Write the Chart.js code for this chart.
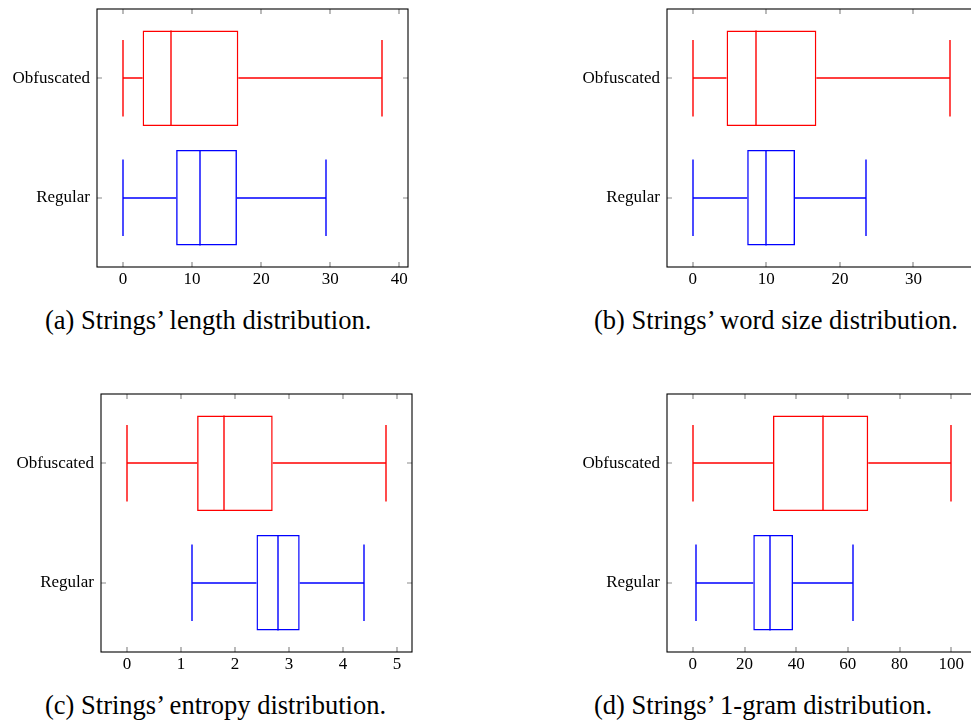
<!DOCTYPE html>
<html>
<head>
<meta charset="utf-8">
<script src="https://cdn.jsdelivr.net/npm/chart.js@4.4.1/dist/chart.umd.min.js"></script>
<style>
  html, body { margin: 0; padding: 0; background: #fff; overflow: hidden; }
  body { width: 971px; height: 722px; position: relative; }
  canvas { position: absolute; }
  .caption {
    position: absolute;
    font-family: "Liberation Serif", "Times New Roman", serif;
    font-size: 26.5px;
    line-height: 26px;
    color: #000;
    white-space: nowrap;
  }
</style>
</head>
<body>
<canvas id="cLength" width="420" height="300" style="left:0px;top:0px"></canvas>
<canvas id="cWord" width="420" height="300" style="left:570px;top:0px"></canvas>
<canvas id="cEntropy" width="420" height="300" style="left:0px;top:385px"></canvas>
<canvas id="cGram" width="420" height="300" style="left:570px;top:385px"></canvas>

<div class="caption" style="left:45px;top:307px">(a) Strings’ length distribution.</div>
<div class="caption" style="left:594px;top:307px">(b) Strings’ word size distribution.</div>
<div class="caption" style="left:45px;top:692px">(c) Strings’ entropy distribution.</div>
<div class="caption" style="left:594px;top:692px">(d) Strings’ 1-gram distribution.</div>

<script>
// categories, top to bottom
const categories = ["Obfuscated", "Regular"];

// (a) length
const lengthMin = [0, 0];
const lengthQ1 = [2.85, 7.7];
const lengthMedian = [6.9, 11.1];
const lengthQ3 = [16.7, 16.5];
const lengthMax = [37.5, 29.4];
const lengthTicks = [0, 10, 20, 30, 40];

// (b) word size
const wordMin = [0, 0];
const wordQ1 = [4.6, 7.4];
const wordMedian = [8.6, 10.0];
const wordQ3 = [16.8, 13.9];
const wordMax = [35.0, 23.5];
const wordTicks = [0, 10, 20, 30];

// (c) entropy
const entropyMin = [0, 1.2];
const entropyQ1 = [1.3, 2.4];
const entropyMedian = [1.8, 2.8];
const entropyQ3 = [2.7, 3.2];
const entropyMax = [4.8, 4.4];
const entropyTicks = [0, 1, 2, 3, 4, 5];

// (d) 1-gram
const gramMin = [0, 1.2];
const gramQ1 = [31.0, 23.4];
const gramMedian = [50.5, 30.0];
const gramQ3 = [67.9, 38.8];
const gramMax = [100, 62.0];
const gramTicks = [0, 20, 40, 60, 80, 100];

const boxColors = ["#ff0000", "#0000ff"];
const tickColor = "#8c8c8c";
const lineW = 1.4;

Chart.defaults.font.family = "'Liberation Serif', 'Times New Roman', serif";
Chart.defaults.font.size = 17;
Chart.defaults.color = "#000";

const n = categories.length;
const pos = (i) => n - i;

// whiskers, caps and median line, drawn through the chart scales
const whiskerPlugin = {
  id: "whiskers",
  afterDatasetsDraw(chart, args, opts) {
    const { ctx } = chart;
    const xs = chart.scales.x;
    const ys = chart.scales.y;
    const meta = chart.getDatasetMeta(0);
    ctx.save();
    ctx.lineWidth = lineW;
    for (let i = 0; i < n; i++) {
      const yc = Math.round(ys.getPixelForValue(pos(i)));
      const capTop = ys.getPixelForValue(pos(i) + 0.32);
      const capBot = ys.getPixelForValue(pos(i) - 0.32);
      const bar = meta.data[i];
      const half = bar.height / 2;
      const px = (v) => Math.round(xs.getPixelForValue(v));
      ctx.strokeStyle = boxColors[i];
      ctx.beginPath();
      // lower whisker
      ctx.moveTo(px(opts.min[i]), yc);
      ctx.lineTo(xs.getPixelForValue(opts.q1[i]), yc);
      // upper whisker
      ctx.moveTo(xs.getPixelForValue(opts.q3[i]), yc);
      ctx.lineTo(px(opts.max[i]), yc);
      // caps
      ctx.moveTo(px(opts.min[i]), capTop);
      ctx.lineTo(px(opts.min[i]), capBot);
      ctx.moveTo(px(opts.max[i]), capTop);
      ctx.lineTo(px(opts.max[i]), capBot);
      // median
      ctx.moveTo(px(opts.median[i]), bar.y - half);
      ctx.lineTo(px(opts.median[i]), bar.y + half);
      ctx.stroke();
    }
    ctx.restore();
  }
};

// pgfplots style frame with inward ticks on all four sides
const framePlugin = {
  id: "frame",
  afterDraw(chart) {
    const { ctx, chartArea: a } = chart;
    const xs = chart.scales.x;
    const ys = chart.scales.y;
    const len = 5;
    ctx.save();
    ctx.lineWidth = 1.2;
    ctx.strokeStyle = tickColor;
    ctx.beginPath();
    xs.ticks.forEach((t) => {
      const x = Math.round(xs.getPixelForValue(t.value));
      ctx.moveTo(x, a.bottom);
      ctx.lineTo(x, a.bottom - len);
      ctx.moveTo(x, a.top);
      ctx.lineTo(x, a.top + len);
    });
    ys.ticks.forEach((t) => {
      const y = Math.round(ys.getPixelForValue(t.value));
      ctx.moveTo(a.left, y);
      ctx.lineTo(a.left + len, y);
      ctx.moveTo(a.right, y);
      ctx.lineTo(a.right - len, y);
    });
    ctx.stroke();
    ctx.lineWidth = 1.1;
    ctx.strokeStyle = "#000";
    ctx.strokeRect(Math.round(a.left), Math.round(a.top),
      Math.round(a.right - a.left), Math.round(a.bottom - a.top));
    ctx.restore();
  }
};

const noPad = (s) => {
  s.paddingTop = 0;
  s.paddingBottom = 0;
  s.paddingLeft = 0;
  s.paddingRight = 0;
};

function makeBoxChart(id, mins, q1, median, q3, maxs, xTicks, yWidth, pad) {
  const lo = Math.min(...mins);
  const hi = Math.max(...maxs);
  const margin = 0.1 * (hi - lo);
  return new Chart(document.getElementById(id), {
    type: "bar",
    data: {
      datasets: [{
        data: categories.map((c, i) => ({ x: [q1[i], q3[i]], y: pos(i) })),
        backgroundColor: "rgba(0,0,0,0)",
        borderColor: boxColors,
        borderWidth: lineW,
        borderSkipped: false,
        categoryPercentage: 1,
        barPercentage: 0.8
      }]
    },
    options: {
      indexAxis: "y",
      responsive: false,
      animation: false,
      events: [],
      layout: { padding: pad },
      scales: {
        x: {
          type: "linear",
          min: lo - margin,
          max: hi + margin,
          offset: false,
          grid: { display: false, drawTicks: false },
          border: { display: false },
          afterBuildTicks: (s) => { s.ticks = xTicks.map((v) => ({ value: v })); },
          afterFit: (s) => { s.height = 33; noPad(s); },
          ticks: { padding: 2, maxRotation: 0, autoSkip: false }
        },
        y: {
          type: "linear",
          min: 0.42,
          max: 2.58,
          offset: false,
          grid: { display: false, drawTicks: false },
          border: { display: false },
          afterBuildTicks: (s) => { s.ticks = categories.map((c, i) => ({ value: pos(i) })); },
          afterFit: (s) => { s.width = yWidth; noPad(s); },
          ticks: {
            padding: 7,
            autoSkip: false,
            callback: (v) => categories[n - v]
          }
        }
      },
      plugins: {
        legend: { display: false },
        tooltip: { enabled: false },
        whiskers: { min: mins, q1: q1, median: median, q3: q3, max: maxs }
      }
    },
    plugins: [whiskerPlugin, framePlugin]
  });
}

makeBoxChart("cLength", lengthMin, lengthQ1, lengthMedian, lengthQ3, lengthMax, lengthTicks,
  97, { left: 0, top: 9, right: 12, bottom: 0 });
makeBoxChart("cWord", wordMin, wordQ1, wordMedian, wordQ3, wordMax, wordTicks,
  97, { left: 0, top: 9, right: 14, bottom: 0 });
makeBoxChart("cEntropy", entropyMin, entropyQ1, entropyMedian, entropyQ3, entropyMax, entropyTicks,
  101, { left: 0, top: 9, right: 8, bottom: 0 });
makeBoxChart("cGram", gramMin, gramQ1, gramMedian, gramQ3, gramMax, gramTicks,
  97, { left: 0, top: 9, right: 13, bottom: 0 });
</script>
</body>
</html>
